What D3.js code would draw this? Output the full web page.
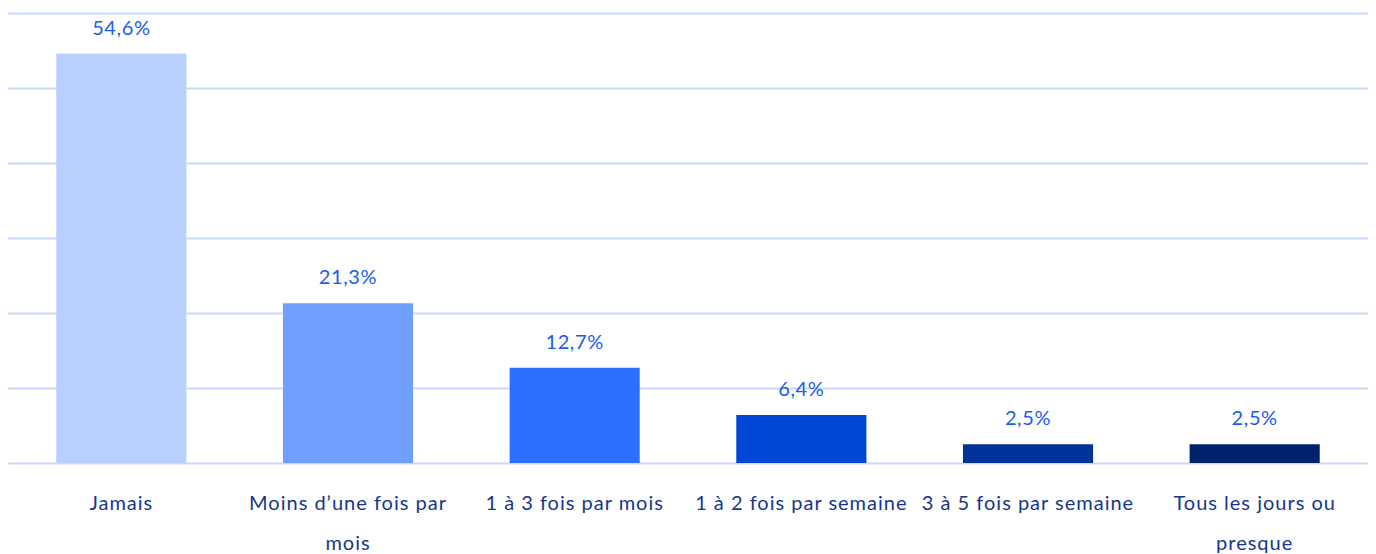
<!DOCTYPE html>
<html>
<head>
<meta charset="utf-8">
<script src="https://cdn.jsdelivr.net/npm/d3@7"></script>
<style>
  body { margin: 0; background: #fff; }
  svg { display: block; font-family: Lato, "Open Sans", sans-serif; }
</style>
</head>
<body>
<svg id="chart" width="1376" height="554"></svg>
<script>
const categories = ["Jamais", "Moins d\u2019une fois par mois", "1 à 3 fois par mois", "1 à 2 fois par semaine", "3 à 5 fois par semaine", "Tous les jours ou presque"];
const values = [54.6, 21.3, 12.7, 6.4, 2.5, 2.5];
const barColors = ["#b9cffe", "#70a0ff", "#2a6fff", "#0047d6", "#003399", "#00226b"];
const yTicks = [0, 10, 20, 30, 40, 50, 60];

const svg = d3.select("#chart"),
  margin = {top: 13, right: 8, bottom: 91, left: 8},
  width = +svg.attr("width") - margin.left - margin.right,
  height = +svg.attr("height") - margin.top - margin.bottom,
  g = svg.append("g").attr("transform", "translate(" + margin.left + "," + margin.top + ")");

const x = d3.scaleBand()
  .domain(categories)
  .range([0, width])
  .paddingInner(0.426)
  .paddingOuter(0.213);

const y = d3.scaleLinear()
  .domain([0, 60])
  .range([height, 0]);

// gridlines
g.append("g")
  .selectAll("line")
  .data(yTicks)
  .enter().append("line")
    .attr("x1", 0)
    .attr("x2", width)
    .attr("y1", d => y(d) + 0.5)
    .attr("y2", d => y(d) + 0.5)
    .attr("stroke", "#c9d9fb")
    .attr("stroke-width", 2);

g.append("g")
  .selectAll("rect")
  .data(values)
  .enter().append("rect")
    .attr("x", (d, i) => x(categories[i]))
    .attr("y", d => y(d))
    .attr("width", x.bandwidth())
    .attr("height", d => height - y(d))
    .attr("fill", (d, i) => barColors[i]);

g.append("g")
  .selectAll("text")
  .data(values)
  .enter().append("text")
    .attr("x", (d, i) => x(categories[i]) + x.bandwidth() / 2)
    .attr("y", d => y(d) - 19)
    .attr("text-anchor", "middle")
    .attr("font-size", 20)
    .attr("letter-spacing", 0.6)
    .attr("fill", "#1a5cf0")
    .text(d => d.toFixed(1).replace(".", ",") + "%");

// x axis labels, wrapped
const xAxis = g.append("g")
  .attr("transform", "translate(0," + height + ")")
  .call(d3.axisBottom(x).tickSize(0).tickPadding(0));
xAxis.select(".domain").remove();
xAxis.selectAll("text")
  .attr("font-size", 20)
  .attr("letter-spacing", 1)
  .attr("font-family", "Lato, 'Open Sans', sans-serif")
  .attr("fill", "#15368c")
  .attr("dy", null)
  .attr("y", 47)
  .each(function(d) {
    const text = d3.select(this);
    const words = d.split(" ");
    text.text(null);
    let line = [];
    let tspan = text.append("tspan").attr("x", 0).attr("dy", 0);
    words.forEach(w => {
      line.push(w);
      tspan.text(line.join(" "));
      if (tspan.node().getComputedTextLength() > 226 && line.length > 1) {
        line.pop();
        tspan.text(line.join(" "));
        line = [w];
        tspan = text.append("tspan").attr("x", 0).attr("dy", 40).text(w);
      }
    });
  });
</script>
</body>
</html>
